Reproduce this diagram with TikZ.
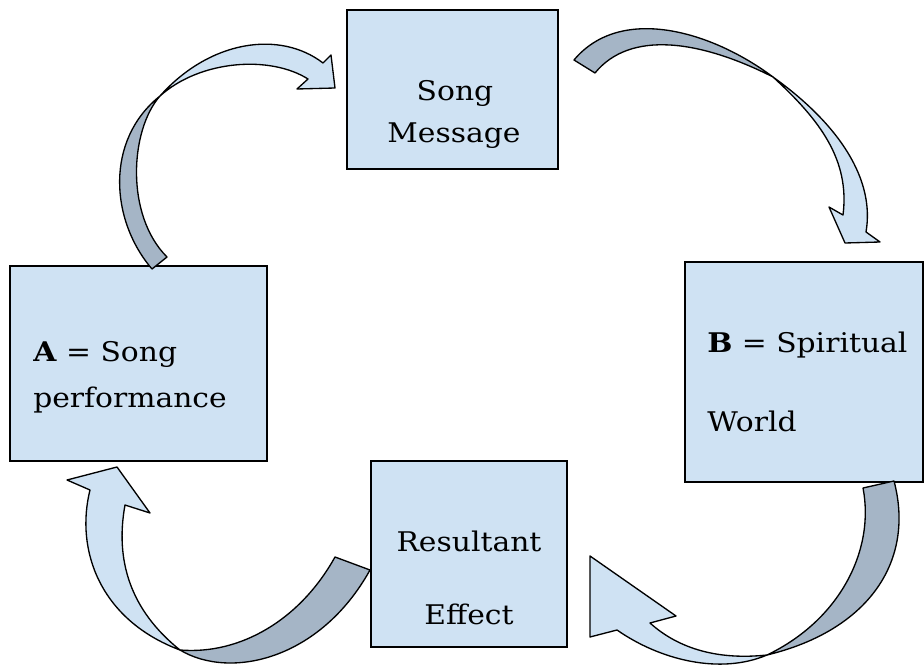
\documentclass[tikz,border=0pt]{standalone}
\usepackage{fontspec}
\setmainfont[FakeStretch=1.1]{DejaVu Serif}
\definecolor{lightfill}{HTML}{CFE2F3}
\definecolor{darkfill}{HTML}{A5B5C6}
\begin{document}
\begin{tikzpicture}[x=0.75pt,y=-0.75pt,
  box/.style={draw=black, line width=1.2pt, fill=lightfill, inner sep=0pt},
  lbl/.style={font=\fontsize{20.3}{24}\selectfont, inner sep=0pt},
  lightpart/.style={fill=lightfill, draw=black, line width=1pt, line join=round},
  darkpart/.style={fill=darkfill, draw=black, line width=1pt, line join=round}]
\useasboundingbox (0,0) rectangle (924,666);

% boxes
\node[box, minimum width=158.25pt, minimum height=119.25pt] (msg) at (452.5,89.5) {};
\node[box, minimum width=192.75pt, minimum height=146.25pt] (A) at (138.5,363.5) {};
\node[box, minimum width=178.5pt, minimum height=165pt] (B) at (804,372) {};
\node[box, minimum width=147pt, minimum height=139.5pt] (R) at (469,554) {};

% texts
\node[lbl, anchor=base] (msg1) at (455,101) {Song};
\node[lbl, anchor=base] (msg2) at (454,143) {Message};
\node[lbl, anchor=base west] (A1) at (33,362) {\textbf{A} = Song};
\node[lbl, anchor=base west] (A2) at (33,407) {performance};
\node[lbl, anchor=base west] (B1) at (707,353) {\textbf{B} = Spiritual};
\node[lbl, anchor=base west] (B2) at (707,431) {World};
\node[lbl, anchor=base] (R1) at (469,551) {Resultant};
\node[lbl, anchor=base] (R2) at (469,624) {Effect};

% arrow 1 : A -> Song Message
\draw[darkpart] (152,269) .. controls (110,220) and (105,140) .. (160,96)
  .. controls (130,130) and (125,215) .. (167,257) -- cycle;
\draw[lightpart] (160,96) .. controls (210,40) and (280,30) .. (323,63)
  -- (331,55) -- (335,88) -- (297,89) -- (308,79)
  .. controls (270,55) and (200,60) .. (160,96) -- cycle;

% arrow 2 : Song Message -> B
\draw[darkpart] (574,60) .. controls (620,5) and (710,30) .. (773,77)
  .. controls (700,40) and (630,30) .. (595,73) -- cycle;
\draw[lightpart] (773,77) .. controls (840,125) and (875,180) .. (866,232)
  -- (880,242) -- (845,243) -- (829,207) -- (843,215)
  .. controls (850,160) and (820,120) .. (773,77) -- cycle;

% arrow 3 : B -> Resultant Effect
\draw[darkpart] (894,481) .. controls (915,560) and (870,630) .. (767,655)
  .. controls (840,620) and (875,550) .. (863,488) -- cycle;
\draw[lightpart] (767,655) .. controls (720,675) and (660,660) .. (617,630)
  -- (590,637) -- (590,556) -- (676,616) -- (650,623)
  .. controls (680,650) and (720,660) .. (767,655) -- cycle;

% arrow 4 : Resultant Effect -> A
\draw[darkpart] (370,570) .. controls (320,660) and (230,680) .. (180,650)
  .. controls (240,655) and (300,620) .. (335,557) -- cycle;
\draw[lightpart] (180,650) .. controls (100,620) and (75,550) .. (90,490)
  -- (67,480) -- (117,467) -- (150,513) -- (125,505)
  .. controls (115,560) and (130,610) .. (180,650) -- cycle;
\end{tikzpicture}
\end{document}
